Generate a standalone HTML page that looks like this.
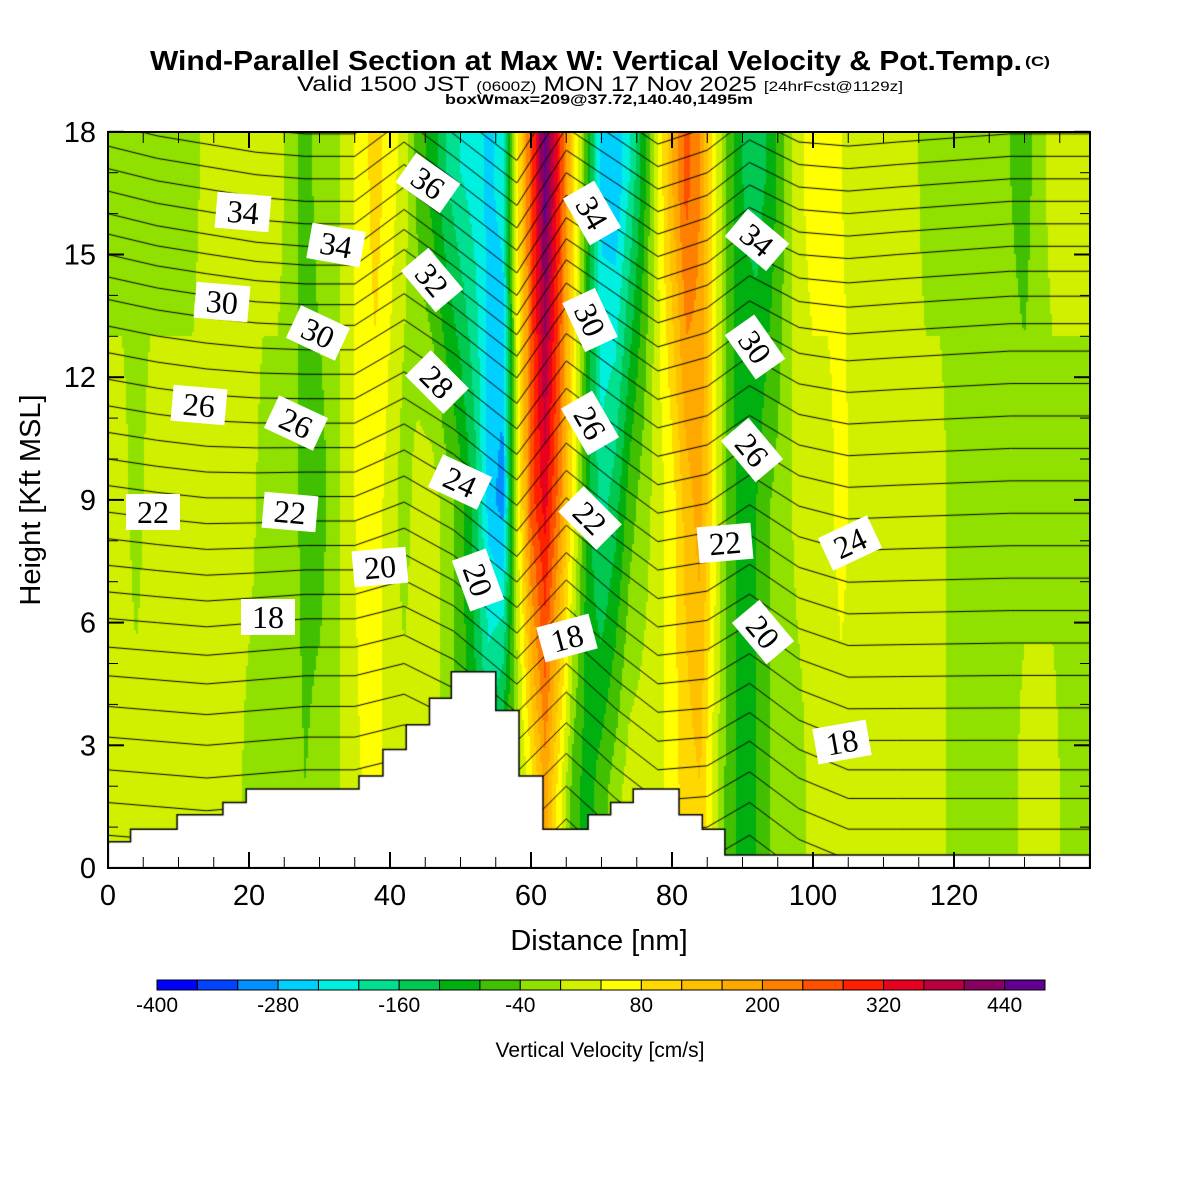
<!DOCTYPE html>
<html><head><meta charset="utf-8"><style>
html,body{margin:0;padding:0;background:#fff;}
#root{position:relative;width:1200px;height:1200px;overflow:hidden;background:#fff;font-family:"Liberation Sans",sans-serif;}
#field{position:absolute;left:108px;top:132px;}
.lbl{position:absolute;background:#fff;font-family:"Liberation Serif",serif;font-size:32px;line-height:36px;width:54px;text-align:center;color:#000;transform-origin:center center;}
svg{position:absolute;left:0;top:0;}
</style></head><body>
<div id="root">
<canvas id="field" width="982" height="736"></canvas>
<div id="labels"></div>
<svg id="ov" width="1200" height="1200">
  <text x="150" y="70" font-size="28" font-weight="bold" textLength="872" lengthAdjust="spacingAndGlyphs">Wind-Parallel Section at Max W: Vertical Velocity &amp; Pot.Temp.</text>
  <text x="1025" y="66" font-size="14" font-weight="bold" textLength="25" lengthAdjust="spacingAndGlyphs">(C)</text>
  <text x="297" y="91" font-size="21" textLength="606" lengthAdjust="spacingAndGlyphs">Valid 1500 JST <tspan font-size="14">(0600Z)</tspan> MON 17 Nov 2025 <tspan font-size="14">[24hrFcst@1129z]</tspan></text>
  <text x="445" y="104" font-size="14" font-weight="bold" textLength="308" lengthAdjust="spacingAndGlyphs">boxWmax=209@37.72,140.40,1495m</text>
  <g id="axes"></g>
  <text x="599" y="950" font-size="29" text-anchor="middle">Distance [nm]</text>
  <text transform="translate(40,500) rotate(-90)" font-size="29" text-anchor="middle">Height [Kft MSL]</text>
  <g id="cbar"></g>
  <text x="600" y="1057" font-size="21" text-anchor="middle">Vertical Velocity [cm/s]</text>
</svg>
</div>
<script>
// ---------- data ----------
const wX = [0,2,4,6,8,10,12,14,16,18,20,22,24,26,28,30,32,34,36,38,40,42,44,46,48,50,52,54,56,58,60,62,64,66,68,70,72,74,76,78,80,82,84,86,88,90,92,94,96,98,100,102,104,106,108,110,112,114,116,118,120,122,124,126,128,130,132,134,136,138,140];
const wHigh = [-20,-20,-20,-20,-20,-20,-20,20,20,20,20,20,20,-20,-60,-20,-20,20,60,100,60,20,-60,-100,-160,-200,-220,-250,-220,60,260,460,300,100,-80,-260,-280,-200,-100,40,160,260,200,60,-60,-120,-140,-110,-40,30,60,60,40,20,20,20,20,20,-20,-20,-20,-20,-20,-20,-40,-60,-20,20,20,20,20];
const wMid = [20,20,-20,20,20,20,20,20,20,20,20,-20,-20,-20,-60,-60,-20,20,60,60,20,-20,20,20,-20,-60,-140,-260,-300,20,260,340,220,60,-100,-180,-140,-60,-20,20,60,140,180,60,-60,-100,-80,-40,-20,20,20,20,60,20,20,20,20,20,20,20,-20,-20,-20,-20,-20,-20,-20,-20,-20,-20,-20];
const wLow = [20,20,20,20,20,20,20,20,20,20,-20,-20,-20,-20,-40,-20,-20,20,40,60,20,20,20,20,-20,-60,-100,-140,-60,-20,60,180,60,-60,-100,-60,-20,20,20,20,60,100,120,20,-60,-100,-80,-40,-20,-20,20,20,20,20,20,20,20,20,20,20,-20,-20,-20,-20,-20,20,20,20,-20,-20,-20];
const binEdges = [-400,-360,-320,-280,-240,-200,-160,-120,-80,-40,0,40,80,120,160,200,240,280,320,360,400,440,480];
const binColors = ["#0000ff","#0044ff","#0090ff","#00d0ff","#00f0e0","#00e090","#00c850","#00b010","#40c000","#90e000","#d0f000","#ffff00","#ffd800","#ffc000","#ffa800","#ff8000","#ff5000","#ff2000","#e80020","#b80040","#880060","#600090"];
const cbarTicks = [-400,-280,-160,-40,80,200,320,440];
const thetaLevels = [11,12,13,14,15,16,17,18,19,20,21,22,23,24,25,26,27,28,29,30,31,32,33,34,35,36,37,38,39,40];
const thetaBaseH = [0.8,1.6,2.4,3.2,3.95,4.7,5.4,6.1,6.75,7.4,8.05,8.7,9.35,10.0,10.65,11.3,11.95,12.6,13.25,13.9,14.45,15.0,15.5,16.0,16.55,17.1,17.65,18.2,18.75,19.3];
const dX = [0,7,14,21,28,35,42,49,58,65,72,78,85,91,98,105,112,120,128,139.3];
const dHigh = [0,-0.3,-0.5,-0.7,-0.8,-0.8,0.1,-0.8,-2.0,-0.1,-0.9,-1.6,-1.2,-0.4,-1.0,-1.1,-1.0,-0.9,-0.8,-0.8];
const dLow = [0,-0.1,-0.2,-0.1,0,0,0.3,-0.3,-1.6,-0.4,-1.5,-2.3,-2.2,-1.6,-2.5,-3.0,-3.0,-3.0,-3.0,-3.0];
const terrX = [0,3.2,9.8,16.3,19.6,35.6,39,42.3,45.6,48.7,55,58.3,61.7,68.1,71.3,74.5,81,84.3,87.5,139.3];
const terrH = [0.64,0.95,1.3,1.6,1.93,2.25,2.9,3.5,4.15,4.8,3.85,2.25,0.95,1.3,1.6,1.93,1.3,0.95,0.32,0.32];
const xTicks = [0,20,40,60,80,100,120];
const yTicks = [0,3,6,9,12,15,18];
// ---------- scales ----------
const PX0=108, PY0=132, PW=982, PH=736;
const sx = v => v*7.05;
const sy = h => PH - h*40.9;
function interp(xs, ys, x){
  if(x<=xs[0]) return ys[0];
  for(let i=1;i<xs.length;i++){ if(x<=xs[i]){const t=(x-xs[i-1])/(xs[i]-xs[i-1]); return ys[i-1]+t*(ys[i]-ys[i-1]);} }
  return ys[ys.length-1];
}
function wAt(x,h){
  const a=interp(wX,wLow,x), b=interp(wX,wMid,x), c=interp(wX,wHigh,x);
  if(h<=2) return a;
  if(h<=9) return a+(b-a)*(h-2)/7;
  if(h<=17) return b+(c-b)*(h-9)/8;
  return c;
}
function colorOf(w){
  for(let i=0;i<binColors.length;i++){ if(w<binEdges[i+1]) return binColors[i]; }
  return binColors[binColors.length-1];
}
// ---------- field ----------
const cv=document.getElementById('field'), ctx=cv.getContext('2d');
const B=2;
for(let py=0;py<PH;py+=B){
  const h=(PH-py-B/2)/40.9;
  for(let px=0;px<PW;px+=B){
    const x=(px+B/2)/7.05;
    ctx.fillStyle=colorOf(wAt(x,h));
    ctx.fillRect(px,py,B,B);
  }
}
// ---------- theta contours ----------
ctx.strokeStyle='#000'; ctx.lineWidth=1;
thetaLevels.forEach((T,i)=>{
  const h0=thetaBaseH[i];
  const f=Math.max(0,Math.min(1,(h0-6)/10));
  ctx.beginPath();
  dX.forEach((x,j)=>{
    const d=dLow[j]+(dHigh[j]-dLow[j])*f;
    const X=sx(x), Y=sy(h0+d);
    if(j===0) ctx.moveTo(X,Y); else ctx.lineTo(X,Y);
  });
  ctx.stroke();
});
// ---------- terrain ----------
ctx.beginPath();
ctx.moveTo(0,PH);
terrX.forEach((x,i)=>{
  const xn = i<terrX.length-1 ? terrX[i+1] : 139.3;
  ctx.lineTo(sx(x),sy(terrH[i])); ctx.lineTo(sx(xn),sy(terrH[i]));
});
ctx.lineTo(PW,PH); ctx.closePath();
ctx.fillStyle='#fff'; ctx.fill();
ctx.strokeStyle='#000'; ctx.lineWidth=1.5; ctx.stroke();
// ---------- labels ----------
const labelText=["34","34","36","34","34","30","30","32","30","30","26","26","28","26","26","22","22","24","22","22","24","20","20","18","18","20","18"];
const labelPos=[[243,212,5],[336,245,10],[428,183,35],[592,213,60],[757,240,40],[222,302,5],[318,333,25],[432,280,50],[590,320,65],[755,347,55],[199,405,5],[296,423,25],[437,382,45],[590,423,60],[752,450,50],[153,512,0],[290,512,5],[460,482,25],[590,518,45],[725,543,-5],[850,543,-25],[380,567,-5],[478,580,70],[268,617,0],[567,638,-15],[763,632,50],[842,742,-10]];
const lc=document.getElementById('labels');
labelText.forEach((t,i)=>{
  const d=document.createElement('div');
  d.className='lbl';
  
  
  d.textContent=t;
  const p=labelPos[i];
  d.style.left=(p[0]-27)+'px'; d.style.top=(p[1]-18)+'px';
  d.style.transform='rotate('+p[2]+'deg)';
  lc.appendChild(d);
});
// ---------- axes ----------
const NS='http://www.w3.org/2000/svg';
const ax=document.getElementById('axes');
function mk(tag,attrs,parent){const e=document.createElementNS(NS,tag);for(const k in attrs)e.setAttribute(k,attrs[k]);parent.appendChild(e);return e;}
const frame=mk('rect',{x:PX0,y:PY0,width:PW,height:PH,fill:'none',stroke:'#000','stroke-width':2},ax);


for(let v=0;v<=135;v+=5){
  const X=PX0+sx(v), L=(v%20===0)?16:11;
  const t1=mk('line',{x1:X,y1:PY0+PH,x2:X,y2:PY0+PH-L,stroke:'#000','stroke-width':v%20===0?2:1},ax);
  
  
  const t2=mk('line',{x1:X,y1:PY0,x2:X,y2:PY0+L,stroke:'#000','stroke-width':v%20===0?2:1},ax);
  
  
}
for(let v=0;v<=18;v++){
  const Y=PY0+sy(v), L=(v%3===0)?16:10;
  const t1=mk('line',{x1:PX0,y1:Y,x2:PX0+L,y2:Y,stroke:'#000','stroke-width':v%3===0?2:1},ax);
  
  
  const t2=mk('line',{x1:PX0+PW,y1:Y,x2:PX0+PW-L,y2:Y,stroke:'#000','stroke-width':v%3===0?2:1},ax);
  
  
}
xTicks.forEach(v=>{
  const t=mk('text',{x:PX0+sx(v),y:905,'font-size':29,'text-anchor':'middle'},ax);
  
  
  t.textContent=v;
});
yTicks.forEach(v=>{
  const t=mk('text',{x:96,y:PY0+sy(v)+10,'font-size':29,'text-anchor':'end'},ax);
  
  
  t.textContent=v;
});
// ---------- colorbar ----------
const cb=document.getElementById('cbar');
const cbX=v=>157+(v+400)*(888/880);
binColors.forEach((c,i)=>{
  const r=mk('rect',{x:cbX(binEdges[i]),y:980,width:cbX(binEdges[i+1])-cbX(binEdges[i]),height:10,fill:c,stroke:'#000','stroke-width':1},cb);
  
  
});
cbarTicks.forEach(v=>{
  const t=mk('text',{x:cbX(v),y:1012,'font-size':21,'text-anchor':'middle'},cb);
  
  
  t.textContent=v;
});
</script>
</body></html>
